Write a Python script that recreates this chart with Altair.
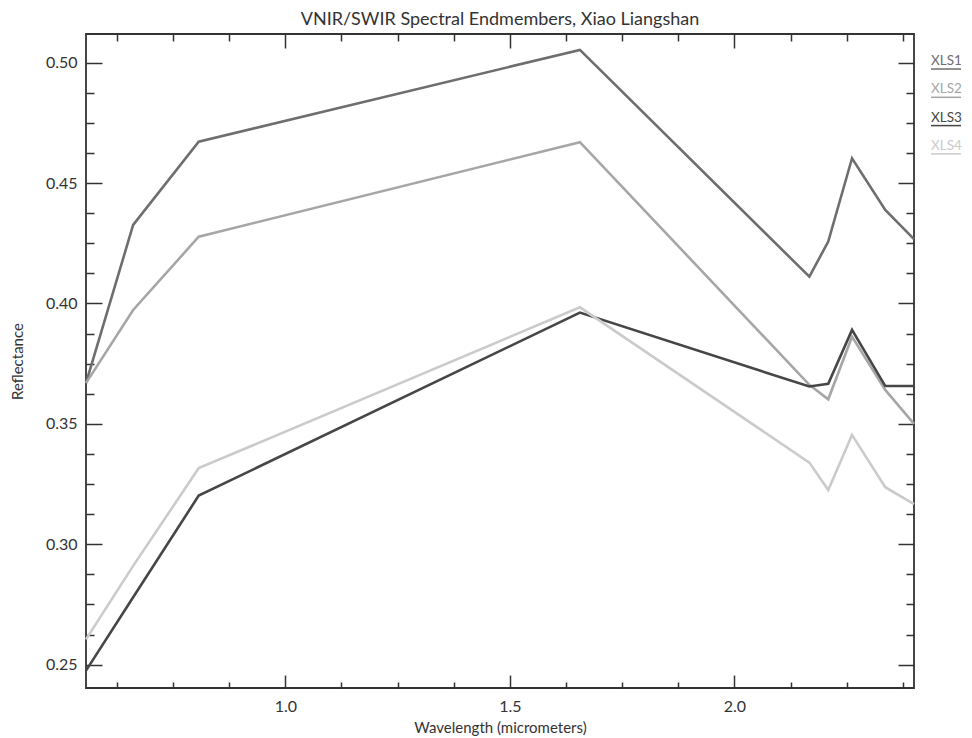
import altair as alt
import pandas as pd

# ASTER VNIR/SWIR band centres (micrometers)
wavelengths = [0.556, 0.661, 0.807, 1.656, 2.167, 2.209, 2.262, 2.336, 2.400]
series_names = ["XLS1", "XLS2", "XLS3", "XLS4"]
xls1 = [0.3669, 0.4326, 0.4672, 0.5053, 0.4111, 0.4257, 0.4603, 0.4388, 0.4267]
xls2 = [0.3669, 0.3973, 0.4277, 0.4670, 0.3662, 0.3602, 0.3862, 0.3641, 0.3500]
xls3 = [0.2475, 0.2780, 0.3202, 0.3962, 0.3655, 0.3666, 0.3890, 0.3657, 0.3657]
xls4 = [0.2605, 0.2910, 0.3316, 0.3984, 0.3339, 0.3225, 0.3454, 0.3237, 0.3167]
series_colors = ["#6e6e6e", "#a6a6a6", "#464646", "#cbcbcb"]

x_major = [1.0, 1.5, 2.0]
x_minor = [0.625, 0.75, 0.875, 1.125, 1.25, 1.375, 1.625, 1.75, 1.875,
           2.125, 2.25, 2.375]
y_major = [0.25, 0.30, 0.35, 0.40, 0.45, 0.50]
y_minor = [0.2625, 0.275, 0.2875, 0.3125, 0.325, 0.3375, 0.3625, 0.375, 0.3875,
           0.4125, 0.425, 0.4375, 0.4625, 0.475, 0.4875]

W, H = 828, 654
INK = "#333333"
FONT = "Lato"

rows = []
for name, vals in zip(series_names, [xls1, xls2, xls3, xls4]):
    for w, v in zip(wavelengths, vals):
        rows.append({"wl": w, "refl": v, "series": name})
df = pd.DataFrame(rows)

xs = alt.Scale(domain=[0.556, 2.400], nice=False, zero=False)
ys = alt.Scale(domain=[0.2403, 0.5119], nice=False, zero=False)
cs = alt.Scale(domain=series_names, range=series_colors)

lines = alt.Chart(df).mark_line(strokeWidth=2.6).encode(
    x=alt.X("wl:Q", scale=xs, axis=alt.Axis(
        orient="bottom", values=x_major, format=".1f", ticks=False, domain=False,
        grid=False, labelFontSize=16, labelPadding=10, labelColor=INK,
        labelFont=FONT, title="Wavelength (micrometers)", titleFontSize=15,
        titleY=44, titleBaseline="alphabetic", titleFontWeight="normal",
        titleColor=INK, titleFont=FONT)),
    y=alt.Y("refl:Q", scale=ys, axis=alt.Axis(
        orient="left", values=y_major, format=".2f", ticks=False, domain=False,
        grid=False, labelFontSize=16, labelPadding=9, labelColor=INK,
        labelFont=FONT, title="Reflectance", titleFontSize=15, titlePadding=20,
        titleFontWeight="normal", titleColor=INK, titleFont=FONT)),
    color=alt.Color("series:N", scale=cs, legend=None),
)


def tick_layer(x_orient, x_vals, x_size, y_orient, y_vals, y_size):
    return alt.Chart(df).mark_point(opacity=0).encode(
        x=alt.X("wl:Q", scale=xs, axis=alt.Axis(
            orient=x_orient, offset=-H, values=x_vals, labels=False,
            domain=False, grid=False, tickSize=x_size, tickColor=INK,
            tickWidth=1.5, title=None)),
        y=alt.Y("refl:Q", scale=ys, axis=alt.Axis(
            orient=y_orient, offset=-W, values=y_vals, labels=False,
            domain=False, grid=False, tickSize=y_size, tickColor=INK,
            tickWidth=1.5, title=None)),
    )


# inward ticks: bottom/left edges
ticks_bl_major = tick_layer("top", x_major, 13, "right", y_major, 16)
ticks_bl_minor = tick_layer("top", x_minor, 6, "right", y_minor, 8)
# inward ticks: top/right edges
ticks_tr_major = tick_layer("bottom", x_major, 14, "left", y_major, 16)
ticks_tr_minor = tick_layer("bottom", x_minor, 7, "left", y_minor, 8)

legend_df = pd.DataFrame({"series": series_names, "idx": list(range(len(series_names)))})
legend_text = alt.Chart(legend_df).transform_calculate(
    py="27 + datum.idx * 28.3"
).mark_text(align="left", baseline="middle", fontSize=13.5, font=FONT).encode(
    x=alt.value(845),
    y=alt.Y("py:Q", scale=None, axis=None),
    text="series:N",
    color=alt.Color("series:N", scale=cs, legend=None),
)
legend_rule = alt.Chart(legend_df).transform_calculate(
    uy="35 + datum.idx * 28.3"
).mark_rule(strokeWidth=1.5).encode(
    x=alt.value(845),
    x2=alt.value(875),
    y=alt.Y("uy:Q", scale=None, axis=None),
    color=alt.Color("series:N", scale=cs, legend=None),
)

chart = alt.layer(
    lines, ticks_bl_major, ticks_bl_minor, ticks_tr_major, ticks_tr_minor,
    legend_text, legend_rule
).resolve_axis(
    x="independent", y="independent"
).properties(
    width=W, height=H,
    autosize=alt.AutoSizeParams(type="none"),
    padding={"left": 78, "top": 26, "right": 50, "bottom": 48},
    title=alt.TitleParams(
        "VNIR/SWIR Spectral Endmembers, Xiao Liangshan", fontSize=18,
        font=FONT, fontWeight="normal", color=INK, offset=4, anchor="middle"),
).configure(
    font=FONT
).configure_view(
    stroke=INK, strokeWidth=1.8
)

chart.save("out.html", embed_options={"renderer": "svg", "actions": False})
